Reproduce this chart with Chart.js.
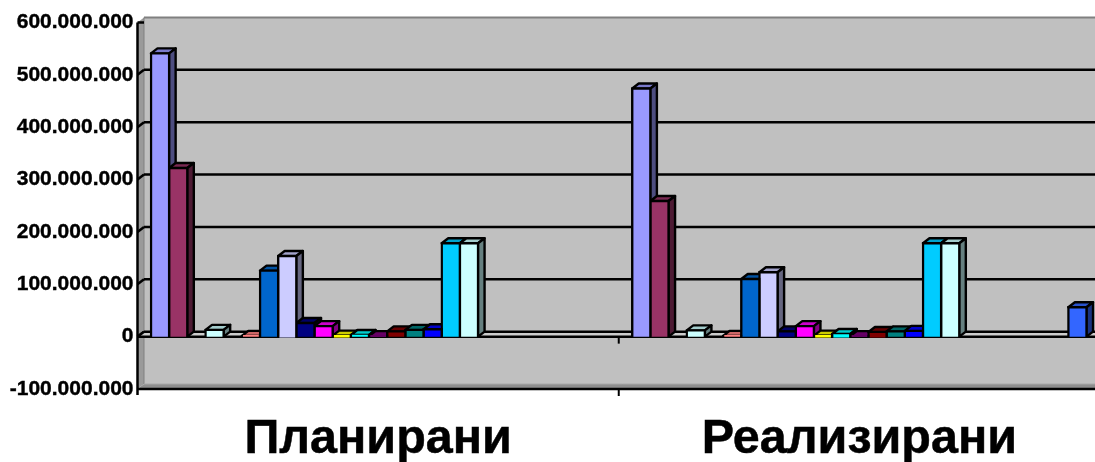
<!DOCTYPE html>
<html>
<head>
<meta charset="utf-8">
<style>
html,body{margin:0;padding:0;background:#fff;width:1095px;height:462px;overflow:hidden}
canvas{display:block}
</style>
<script src="https://cdn.jsdelivr.net/npm/chart.js@4/dist/chart.umd.min.js"></script>
</head>
<body>
<canvas id="c" width="1100" height="462" style="width:1100px;height:462px"></canvas>
<script>
const categories = ['Планирани', 'Реализирани'];
const planned = [541e6,322e6,null,13e6,null,1.5e6,126e6,154e6,26e6,20e6,2e6,3e6,1e6,10e6,13e6,14e6,178.5e6,178.5e6,null,null,null,null,null,null,null];
const realized = [474e6,259e6,null,12e6,null,1.5e6,110e6,123e6,10e6,20e6,2e6,5e6,1e6,9e6,10e6,11e6,178.5e6,178.5e6,null,null,null,null,null,null,56e6];
const colors = ['#9999FF','#993366','#FFFFCC','#CCFFFF','#660066','#FF8080','#0066CC','#CCCCFF','#000080','#FF00FF','#FFFF00','#00FFFF','#800080','#800000','#008080','#0000FF','#00CCFF','#CCFFFF','#CCFFCC','#FFFF99','#99CCFF','#FF99CC','#CC99FF','#FFCC99','#3366FF'];

const DX = 6.5, DY = 5;
function shade(hex, f) {
  const n = parseInt(hex.slice(1), 16);
  return 'rgb(' + [(n >> 16) & 255, (n >> 8) & 255, n & 255].map(v => Math.round(v * f)).join(',') + ')';
}
function poly(ctx, pts, fill, stroke, lw) {
  ctx.beginPath();
  pts.forEach((p, i) => i ? ctx.lineTo(p[0], p[1]) : ctx.moveTo(p[0], p[1]));
  ctx.closePath();
  if (fill) { ctx.fillStyle = fill; ctx.fill(); }
  if (stroke) { ctx.strokeStyle = stroke; ctx.lineWidth = lw; ctx.lineJoin = 'round'; ctx.stroke(); }
}
function line(ctx, x1, y1, x2, y2, color, lw) {
  ctx.beginPath(); ctx.moveTo(x1, y1); ctx.lineTo(x2, y2);
  ctx.strokeStyle = color; ctx.lineWidth = lw; ctx.stroke();
}

const walls = {
  id: 'walls',
  beforeDatasetsDraw(chart) {
    const { ctx, chartArea: a, scales: { x, y } } = chart;
    const L = a.left, R = a.right, T = a.top, B = a.bottom, Z = y.getPixelForValue(0);
    ctx.save();
    // back wall, left wall, floor
    poly(ctx, [[L + DX, T - DY], [R + DX, T - DY], [R + DX, B - DY], [L + DX, B - DY]], '#C0C0C0');
    poly(ctx, [[L, T], [L + DX, T - DY], [L + DX, B - DY], [L, B]], '#9A9A9A');
    poly(ctx, [[L, B], [L + DX, B - DY], [R + DX, B - DY], [R, B]], '#8E8E8E');
    line(ctx, L + DX, T - DY, R + DX, T - DY, '#808080', 2);
    line(ctx, L + DX, T - DY, L + DX, B - DY, '#808080', 1);
    line(ctx, L + DX, B - DY, R + DX, B - DY, '#A8A8A8', 1);
    // grid on back and left walls
    y.ticks.forEach(t => {
      const py = y.getPixelForValue(t.value);
      if (t.value === y.min || t.value === y.max) {
        if (t.value === y.max) line(ctx, L, py, L + DX, py, '#000', 2.5);
        return;
      }
      line(ctx, L, py, L + DX, py - DY, '#000', 2.5);
      if (t.value !== 0) line(ctx, L + DX, py - DY, R + DX, py - DY, '#000', 2.5);
    });
    // zero plane
    poly(ctx, [[L, Z], [L + DX, Z - DY], [R + DX, Z - DY], [R, Z]], '#CCCCCC');
    line(ctx, L + DX, Z - DY, R + DX, Z - DY, '#000', 2.5);
    line(ctx, L, Z, L + DX, Z - DY, '#000', 2.5);
    line(ctx, L, Z, R, Z, '#000', 2.5);
    // axes
    line(ctx, L, T, L, B + 6, '#000', 2.5);
    line(ctx, L, B, R, B, '#000', 2.5);
    // category separators
    const sep = x.getPixelForValue(0) + (x.getPixelForValue(1) - x.getPixelForValue(0)) / 2;
    line(ctx, sep, Z, sep, Z + 7, '#000', 2);
    line(ctx, sep, B, sep, B + 7, '#000', 2);
    // 3D top and side of every bar
    chart.data.datasets.forEach((ds, i) => {
      chart.getDatasetMeta(i).data.forEach((el, j) => {
        if (ds.data[j] == null) return;
        const p = el.getProps(['x', 'y', 'base', 'width'], true);
        const l = p.x - p.width / 2, r = p.x + p.width / 2, t = p.y, b = p.base;
        poly(ctx, [[l, t], [l + DX, t - DY], [r + DX, t - DY], [r, t]], shade(colors[i], 0.8), '#000', 2.4);
        poly(ctx, [[r, t], [r + DX, t - DY], [r + DX, b - DY], [r, b]], shade(colors[i], 0.5), '#000', 2.4);
      });
    });
    ctx.restore();
  }
};

new Chart(document.getElementById('c'), {
  type: 'bar',
  data: {
    labels: categories,
    datasets: colors.map((color, i) => ({
      data: [planned[i], realized[i]],
      backgroundColor: color,
      borderColor: '#000',
      borderWidth: 2.4,
      inflateAmount: 1.2
    }))
  },
  options: {
    responsive: false,
    animation: false,
    layout: { padding: { top: 22.5, right: 0, left: 0, bottom: 0 } },
    plugins: { legend: { display: false }, tooltip: { enabled: false } },
    datasets: { bar: { barPercentage: 1, categoryPercentage: 0.944 } },
    scales: {
      x: {
        grid: { display: false },
        border: { display: false },
        ticks: { color: '#000', textStrokeColor: '#000', textStrokeWidth: 0.5, font: { family: '"Liberation Sans"', size: 48.5, weight: 'bold' }, padding: 14, maxRotation: 0, autoSkip: false },
        afterFit: s => { s.height = 73; }
      },
      y: {
        min: -100000000,
        max: 600000000,
        grid: { display: false, drawTicks: false },
        border: { display: false },
        ticks: {
          stepSize: 100000000,
          color: '#000',
          textStrokeColor: '#000',
          textStrokeWidth: 0.4,
          padding: 4,
          font: { family: '"Liberation Sans"', size: 21, weight: 'bold' },
          callback: v => String(v).replace(/\B(?=(\d{3})+(?!\d))/g, '.')
        },
        afterFit: s => { s.width = 137.5; }
      }
    }
  },
  plugins: [walls]
});
</script>
</body>
</html>
